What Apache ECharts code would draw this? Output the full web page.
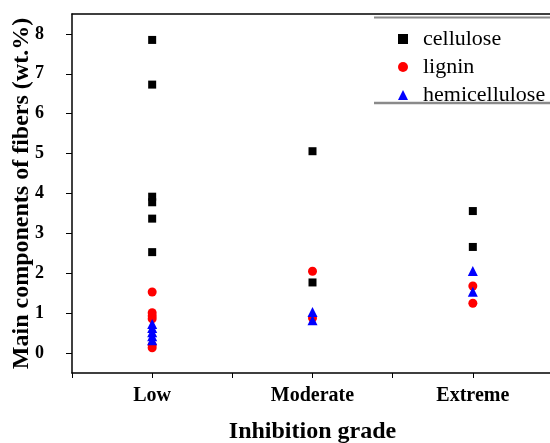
<!DOCTYPE html>
<html>
<head>
<meta charset="utf-8">
<script src="https://cdn.jsdelivr.net/npm/echarts@6/dist/echarts.min.js"></script>
<style>html,body{margin:0;padding:0;background:#fff}#c{width:550px;height:443px}</style>
</head>
<body>
<div id="c"></div>
<script>
var categories = ['Low', 'Moderate', 'Extreme'];
var yTicks = [0, 1, 2, 3, 4, 5, 6, 7, 8];
var celluloseLow = [7.85, 6.73, 3.92, 3.78, 3.37, 2.53];
var celluloseModerate = [5.06, 1.77];
var celluloseExtreme = [3.56, 2.66];
var ligninLow = [1.53, 1.01, 0.93, 0.86, 0.2, 0.13];
var ligninModerate = [2.05, 0.88];
var ligninExtreme = [1.68, 1.25];
var hemiLow = [0.73, 0.63, 0.52, 0.42, 0.32];
var hemiModerate = [1.03, 0.82];
var hemiExtreme = [2.06, 1.54];

function pts(groups) {
  var out = [];
  groups.forEach(function (g, i) {
    g.forEach(function (v) { out.push([i + 1, v]); });
  });
  return out;
}

var serif = '"Liberation Serif", "Times New Roman", serif';
var chart = echarts.init(document.getElementById('c'));
chart.setOption({
  animation: false,
  backgroundColor: '#fff',
  grid: { left: 72, top: 14, width: 481, height: 359, containLabel: false, outerBoundsMode: 'none' },
  xAxis: [{
    type: 'value', min: 0.5, max: 3.5, interval: 0.5,
    name: 'Inhibition grade', nameLocation: 'middle', nameGap: 47, nameMoveOverlap: false,
    nameTextStyle: { fontFamily: serif, fontWeight: 'bold', fontSize: 24, color: '#000' },
    axisLine: { show: true, onZero: false, lineStyle: { color: '#000', width: 1.5 } },
    axisTick: { show: true, length: 5, lineStyle: { color: '#000', width: 1 } },
    axisLabel: {
      customValues: [1, 2, 3], margin: 13,
      fontFamily: serif, fontWeight: 'bold', fontSize: 20, color: '#000',
      formatter: function (v) { return categories[Math.round(v) - 1] || ''; }
    },
    splitLine: { show: false }
  }, {
    type: 'value', position: 'top', min: 0.5, max: 3.5,
    axisLine: { show: true, onZero: false, lineStyle: { color: '#000', width: 1.5 } },
    axisTick: { show: false }, axisLabel: { show: false }, splitLine: { show: false }
  }],
  yAxis: {
    type: 'value', min: -0.5, max: 8.5, interval: 0.5,
    name: 'Main components of fibers (wt.%)', nameLocation: 'middle', nameGap: 38, nameMoveOverlap: false,
    nameTextStyle: { fontFamily: serif, fontWeight: 'bold', fontSize: 24, color: '#000' },
    axisLine: { show: true, onZero: false, lineStyle: { color: '#000', width: 1.5 } },
    axisTick: { show: true, length: 6, customValues: yTicks, lineStyle: { color: '#000', width: 1 } },
    axisLabel: { customValues: yTicks, margin: 28, fontFamily: serif, fontWeight: 'bold', fontSize: 18, color: '#000' },
    splitLine: { show: false }
  },
  legend: {
    orient: 'vertical', left: 393, top: 23, itemGap: 6, itemWidth: 10, itemHeight: 10,
    textStyle: { fontFamily: serif, fontSize: 22, color: '#000', lineHeight: 22, padding: [0, 0, 0, 10] },
    data: [
      { name: 'cellulose', icon: 'rect', itemStyle: { color: '#000' } },
      { name: 'lignin', icon: 'circle', itemStyle: { color: '#ff0000' } },
      { name: 'hemicellulose', icon: 'triangle', itemStyle: { color: '#0000ff' } }
    ]
  },
  graphic: [
    { type: 'line', shape: { x1: 374, y1: 17.5, x2: 550, y2: 17.5 }, style: { stroke: '#8a8a8a', lineWidth: 2 } },
    { type: 'line', shape: { x1: 374, y1: 103, x2: 550, y2: 103 }, style: { stroke: '#8a8a8a', lineWidth: 2.5 } }
  ],
  series: [
    { name: 'cellulose', type: 'scatter', symbol: 'rect', symbolSize: 8, itemStyle: { color: '#000', opacity: 1 },
      data: pts([celluloseLow, celluloseModerate, celluloseExtreme]) },
    { name: 'lignin', type: 'scatter', symbol: 'circle', symbolSize: 9, itemStyle: { color: '#ff0000', opacity: 1 },
      data: pts([ligninLow, ligninModerate, ligninExtreme]) },
    { name: 'hemicellulose', type: 'scatter', symbol: 'triangle', symbolSize: 10, itemStyle: { color: '#0000ff', opacity: 1 },
      data: pts([hemiLow, hemiModerate, hemiExtreme]) }
  ]
});
</script>
</body>
</html>
